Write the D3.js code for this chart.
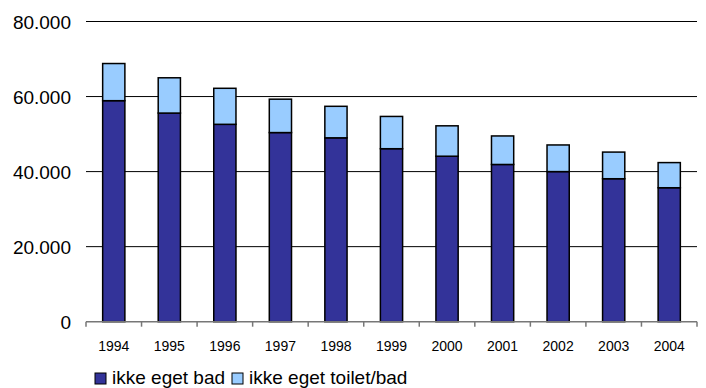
<!DOCTYPE html>
<html>
<head>
<meta charset="utf-8">
<script src="https://cdn.jsdelivr.net/npm/d3@7"></script>
<style>
  body { margin: 0; background: #fff; }
  text { font-family: "Liberation Sans", Arial, sans-serif; fill: #000; }
</style>
</head>
<body>
<div id="chart"></div>
<script>
var years = ["1994", "1995", "1996", "1997", "1998", "1999", "2000", "2001", "2002", "2003", "2004"];
var ikkeEgetBad = [58900, 55600, 52600, 50400, 49000, 46100, 44100, 41900, 40000, 38100, 35700];
var ikkeEgetToiletBad = [9900, 9400, 9600, 8900, 8400, 8600, 8100, 7600, 7100, 7100, 6700];
var seriesNames = ["ikke eget bad", "ikke eget toilet/bad"];
var yTicks = [0, 20000, 40000, 60000, 80000];

var colors = ["#333399", "#99ccff"];
var width = 706, height = 388;
var plot = {left: 86, right: 697, top: 21.5, bottom: 321.7};

var svg = d3.select("#chart").append("svg")
    .attr("width", width)
    .attr("height", height);

var x = d3.scaleBand()
  .domain(years)
  .range([plot.left, plot.right])
  .paddingInner(0.6)
  .paddingOuter(0.3);

var y = d3.scaleLinear()
  .domain([0, 80000])
  .range([plot.bottom, plot.top]);

var fmt = function(d) { return d === 0 ? "0" : d3.format(",")(d).replace(/,/g, "."); };

// gridlines
svg.selectAll(".grid")
  .data(yTicks.filter(function(d) { return d > 0; }))
  .enter().append("line")
    .attr("x1", plot.left).attr("x2", plot.right)
    .attr("y1", function(d) { return y(d); })
    .attr("y2", function(d) { return y(d); })
    .attr("stroke", "#000")
    .attr("stroke-width", 1);

// y labels
svg.selectAll(".ylab")
  .data(yTicks)
  .enter().append("text")
    .attr("x", 71)
    .attr("y", function(d) { return y(d) + 7; })
    .attr("text-anchor", "end")
    .style("font-size", "19px")
    .text(fmt);

var data = years.map(function(yr, i) {
  return { year: yr, a: ikkeEgetBad[i], b: ikkeEgetToiletBad[i] };
});
var stack = d3.stack().keys(["a", "b"])(data);

svg.selectAll(".layer")
  .data(stack)
  .enter().append("g")
    .attr("fill", function(d, i) { return colors[i]; })
  .selectAll("rect")
  .data(function(d) { return d; })
  .enter().append("rect")
    .attr("x", function(d) { return x(d.data.year); })
    .attr("width", x.bandwidth())
    .attr("y", function(d) { return y(d[1]); })
    .attr("height", function(d) { return y(d[0]) - y(d[1]); })
    .attr("stroke", "#000")
    .attr("stroke-width", 1.5);

// x axis
var step = x.step();
svg.append("line")
  .attr("x1", plot.left).attr("x2", plot.right)
  .attr("y1", plot.bottom).attr("y2", plot.bottom)
  .attr("stroke", "#777")
  .attr("stroke-width", 1.5);

svg.selectAll(".xtick")
  .data(d3.range(years.length + 1))
  .enter().append("line")
    .attr("x1", function(i) { return plot.left + i * step; })
    .attr("x2", function(i) { return plot.left + i * step; })
    .attr("y1", plot.bottom).attr("y2", plot.bottom + 5)
    .attr("stroke", "#777")
    .attr("stroke-width", 1.5);

svg.selectAll(".xlab")
  .data(years)
  .enter().append("text")
    .attr("x", function(d) { return x(d) + x.bandwidth() / 2; })
    .attr("y", 351)
    .attr("text-anchor", "middle")
    .style("font-size", "14px")
    .text(function(d) { return d; });

// legend
var legendX = [95, 232];
var lg = svg.selectAll(".legend")
  .data(seriesNames)
  .enter().append("g")
    .attr("transform", function(d, i) { return "translate(" + legendX[i] + ",373)"; });
lg.append("rect")
  .attr("width", 11).attr("height", 11)
  .attr("fill", function(d, i) { return colors[i]; })
  .attr("stroke", "#000")
  .attr("stroke-width", 1);
lg.append("text")
  .attr("x", 17)
  .attr("y", 11)
  .style("font-size", "19px")
  .text(function(d) { return d; });
</script>
</body>
</html>
